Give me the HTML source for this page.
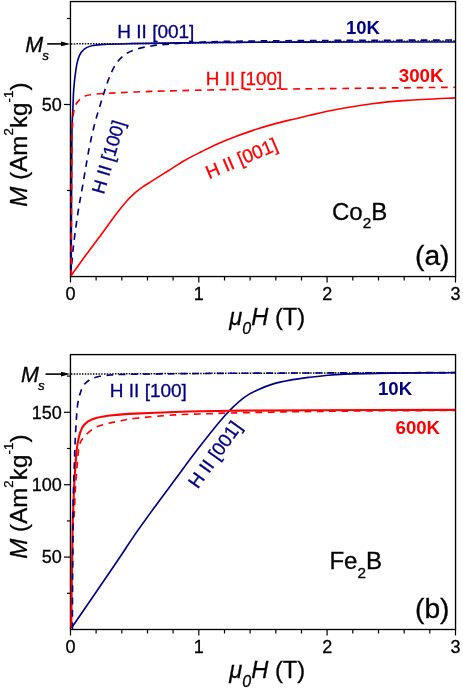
<!DOCTYPE html><html><head><meta charset="utf-8"><style>html,body{margin:0;padding:0;background:#fff}body{width:463px;height:688px;overflow:hidden;position:relative;font-family:"Liberation Sans",sans-serif}</style></head><body>
<svg width="463" height="688" viewBox="0 0 463 688" style="position:absolute;left:0;top:0;will-change:transform">
<rect width="463" height="688" fill="#fff"/>
<g stroke="#000" stroke-width="1.35" fill="none">
<rect x="70.45" y="1.55" width="385.1" height="275.0"/>
<rect x="70.45" y="354.6" width="385.1" height="274.9"/>
</g>
<g stroke="#000" stroke-width="1.2" fill="none">
<line x1="70.5" y1="276.5" x2="70.5" y2="282.5"/><line x1="96.1" y1="276.5" x2="96.1" y2="280.5"/><line x1="121.8" y1="276.5" x2="121.8" y2="280.5"/><line x1="147.5" y1="276.5" x2="147.5" y2="280.5"/><line x1="173.1" y1="276.5" x2="173.1" y2="280.5"/><line x1="198.8" y1="276.5" x2="198.8" y2="282.5"/><line x1="224.5" y1="276.5" x2="224.5" y2="280.5"/><line x1="250.1" y1="276.5" x2="250.1" y2="280.5"/><line x1="275.8" y1="276.5" x2="275.8" y2="280.5"/><line x1="301.5" y1="276.5" x2="301.5" y2="280.5"/><line x1="327.1" y1="276.5" x2="327.1" y2="282.5"/><line x1="352.8" y1="276.5" x2="352.8" y2="280.5"/><line x1="378.5" y1="276.5" x2="378.5" y2="280.5"/><line x1="404.2" y1="276.5" x2="404.2" y2="280.5"/><line x1="429.8" y1="276.5" x2="429.8" y2="280.5"/><line x1="455.5" y1="276.5" x2="455.5" y2="282.5"/>
<line x1="70.5" y1="629.5" x2="70.5" y2="635.5"/><line x1="96.1" y1="629.5" x2="96.1" y2="633.5"/><line x1="121.8" y1="629.5" x2="121.8" y2="633.5"/><line x1="147.5" y1="629.5" x2="147.5" y2="633.5"/><line x1="173.1" y1="629.5" x2="173.1" y2="633.5"/><line x1="198.8" y1="629.5" x2="198.8" y2="635.5"/><line x1="224.5" y1="629.5" x2="224.5" y2="633.5"/><line x1="250.1" y1="629.5" x2="250.1" y2="633.5"/><line x1="275.8" y1="629.5" x2="275.8" y2="633.5"/><line x1="301.5" y1="629.5" x2="301.5" y2="633.5"/><line x1="327.1" y1="629.5" x2="327.1" y2="635.5"/><line x1="352.8" y1="629.5" x2="352.8" y2="633.5"/><line x1="378.5" y1="629.5" x2="378.5" y2="633.5"/><line x1="404.2" y1="629.5" x2="404.2" y2="633.5"/><line x1="429.8" y1="629.5" x2="429.8" y2="633.5"/><line x1="455.5" y1="629.5" x2="455.5" y2="635.5"/>
<line x1="66.95" y1="190.5" x2="70.45" y2="190.5"/>
<line x1="63.95" y1="104.5" x2="70.45" y2="104.5"/>
<line x1="66.95" y1="18.5" x2="70.45" y2="18.5"/>
<line x1="66.95" y1="593.3" x2="70.45" y2="593.3"/>
<line x1="63.95" y1="557.1" x2="70.45" y2="557.1"/>
<line x1="66.95" y1="520.9" x2="70.45" y2="520.9"/>
<line x1="63.95" y1="484.7" x2="70.45" y2="484.7"/>
<line x1="66.95" y1="448.5" x2="70.45" y2="448.5"/>
<line x1="63.95" y1="412.3" x2="70.45" y2="412.3"/>
<line x1="66.95" y1="376.1" x2="70.45" y2="376.1"/>
</g>
<g stroke="#000" stroke-width="1.5" stroke-dasharray="1.45 1.3" fill="none"><path d="M71,43.9 L130,43.6 L220,42.6 L300,41.8 L455,40.9"/><path d="M71,374.1 L220,373.3 L455,372.6"/></g>
<line x1="47.2" y1="43.9" x2="63" y2="43.9" stroke="#000" stroke-width="1.6"/><path d="M61,41.6 L70.3,43.9 L61,46.199999999999996 Z" fill="#000"/>
<line x1="45.5" y1="374.1" x2="63" y2="374.1" stroke="#000" stroke-width="1.6"/><path d="M61,371.8 L70.3,374.1 L61,376.40000000000003 Z" fill="#000"/>
<clipPath id="ca"><rect x="70" y="1" width="386" height="275"/></clipPath><clipPath id="cb"><rect x="70" y="354" width="386" height="275"/></clipPath>
<g clip-path="url(#ca)">
<path d="M70.6,276.3 C72.5,273.6 77.5,266.5 82.3,259.9 C87.1,253.3 93.8,244.6 99.6,236.8 C105.3,229.0 112.2,219.4 116.8,213.3 C121.4,207.2 124.3,203.8 127.2,200.5 C130.1,197.2 131.8,195.7 134.1,193.6 C136.4,191.5 138.1,190.1 141.0,188.1 C143.9,186.1 146.8,184.3 151.4,181.4 C156.0,178.5 163.2,174.0 168.7,170.5 C174.2,167.0 179.1,163.7 184.6,160.5 C190.1,157.3 196.1,154.4 201.8,151.5 C207.6,148.6 213.3,145.7 219.1,143.2 C224.9,140.7 230.6,138.5 236.4,136.3 C242.2,134.1 247.9,132.0 253.7,130.1 C259.4,128.2 265.1,126.5 270.9,124.9 C276.6,123.3 281.7,122.0 288.2,120.4 C294.7,118.8 301.8,117.2 310.0,115.3 C318.2,113.4 327.2,111.2 337.6,109.3 C348.0,107.4 360.6,105.2 372.1,103.7 C383.6,102.2 392.9,101.4 406.7,100.4 C420.5,99.4 446.9,98.3 455.0,97.9" stroke="#ff0000" stroke-width="1.65" fill="none" stroke-linejoin="round"/>
<path d="M70.6,276.5 C71.1,271.2 72.4,255.5 73.6,244.8 C74.8,234.1 76.5,222.5 78.0,212.4 C79.5,202.3 81.1,194.7 82.9,184.3 C84.7,173.9 86.9,160.1 88.8,150.2 C90.7,140.2 92.7,131.8 94.5,124.6 C96.3,117.4 97.8,112.8 99.6,107.0 C101.3,101.2 103.2,95.2 105.0,89.8 C106.8,84.4 108.4,79.2 110.4,74.7 C112.4,70.2 114.3,66.2 116.8,62.8 C119.3,59.4 122.2,56.5 125.5,54.2 C128.8,51.9 132.0,50.6 136.3,49.2 C140.6,47.8 146.6,46.8 151.4,46.0 C156.2,45.2 158.6,44.9 165.0,44.4 C171.4,43.9 180.8,43.3 190.0,42.8 C199.2,42.3 201.7,41.9 220.0,41.5 C238.3,41.1 260.8,40.9 300.0,40.6 C339.2,40.4 429.2,40.1 455.0,40.0" stroke="#000080" stroke-width="1.65" fill="none" stroke-dasharray="6.7 5.6" stroke-linejoin="round"/>
<path d="M71.2,276.5 C71.2,263.8 71.4,221.1 71.5,200.0 C71.6,178.9 71.7,162.5 71.8,150.0 C71.9,137.5 71.9,131.4 72.1,125.0 C72.3,118.6 72.5,117.3 72.8,111.4 C73.1,105.5 73.2,96.6 73.7,89.8 C74.2,83.0 75.1,75.4 75.8,70.4 C76.5,65.4 77.1,62.6 78.0,59.6 C78.9,56.6 79.8,54.2 81.2,52.2 C82.6,50.2 84.6,48.7 86.6,47.6 C88.6,46.5 90.2,46.0 93.1,45.5 C96.0,45.0 97.8,44.7 103.9,44.4 C110.0,44.1 119.6,43.9 129.8,43.7 C140.0,43.5 150.0,43.3 165.0,43.1 C180.0,42.9 197.5,42.6 220.0,42.4 C242.5,42.2 260.8,42.2 300.0,42.1 C339.2,42.0 429.2,42.0 455.0,42.0" stroke="#000080" stroke-width="1.65" fill="none" stroke-linejoin="round"/>
<path d="M71.2,276.5 C71.2,263.8 71.4,219.4 71.5,200.0 C71.6,180.6 71.7,170.8 71.8,160.0 C71.9,149.2 72.0,142.1 72.2,135.0 C72.4,127.9 72.6,121.8 73.0,117.2 C73.4,112.6 74.0,110.1 74.8,107.5 C75.6,104.9 76.3,103.4 77.8,101.6 C79.3,99.8 81.6,97.9 83.6,96.8 C85.6,95.7 86.6,95.3 90.0,94.8 C93.4,94.2 97.3,93.9 103.9,93.5 C110.5,93.1 119.6,92.6 129.8,92.2 C140.0,91.8 148.3,91.4 165.0,91.0 C181.7,90.6 205.8,90.0 230.0,89.6 C254.2,89.2 272.5,89.2 310.0,88.8 C347.5,88.4 430.8,87.5 455.0,87.3" stroke="#ff0000" stroke-width="1.65" fill="none" stroke-dasharray="6.7 5.6" stroke-linejoin="round"/>
</g><g clip-path="url(#cb)">
<path d="M71.8,627.5 C79.5,616.2 107.8,575.1 118.0,560.0 C128.2,544.9 127.1,546.0 133.2,537.1 C139.3,528.2 147.6,516.8 154.8,506.9 C162.0,497.0 169.4,487.2 176.6,477.5 C183.8,467.8 191.0,457.9 198.2,448.6 C205.4,439.3 214.0,428.4 219.8,421.5 C225.6,414.6 228.8,411.3 233.0,407.2 C237.2,403.1 240.9,399.7 245.0,396.8 C249.1,393.9 252.7,392.1 257.5,389.9 C262.4,387.7 268.5,385.3 274.1,383.6 C279.8,381.9 285.4,381.0 291.4,379.9 C297.4,378.8 304.6,377.9 310.0,377.2 C315.4,376.5 317.9,376.2 323.7,375.7 C329.4,375.2 333.4,374.5 344.5,374.1 C355.6,373.7 371.6,373.3 390.0,373.1 C408.4,372.9 444.2,372.8 455.0,372.7" stroke="#000080" stroke-width="1.65" fill="none" stroke-linejoin="round"/>
<path d="M71.4,628.0 C71.7,611.7 72.5,548.9 73.0,530.0 C73.5,511.1 73.8,521.6 74.2,514.7 C74.6,507.8 74.9,496.8 75.4,488.5 C75.9,480.2 76.5,472.3 77.2,465.0 C77.9,457.7 78.2,449.7 79.5,444.9 C80.8,440.1 82.1,439.1 84.7,436.2 C87.3,433.3 91.2,429.7 95.1,427.6 C99.0,425.5 104.0,424.5 108.2,423.4 C112.4,422.3 115.4,421.9 120.0,421.0 C124.6,420.1 126.8,419.2 135.9,418.2 C145.0,417.2 164.1,415.6 174.8,414.9 C185.5,414.2 190.6,414.3 200.0,414.0 C209.4,413.7 219.3,413.3 231.0,413.0 C242.7,412.7 256.8,412.4 270.0,412.2 C283.2,411.9 291.7,411.7 310.0,411.5 C328.3,411.3 355.8,411.0 380.0,410.8 C404.2,410.6 442.5,410.5 455.0,410.4" stroke="#ff0000" stroke-width="1.65" fill="none" stroke-dasharray="6.7 5.6" stroke-linejoin="round"/>
<path d="M71.2,627.5 C71.4,611.2 72.2,550.0 72.6,530.0 C72.9,510.0 73.0,515.5 73.3,507.7 C73.6,499.9 73.9,490.3 74.3,483.3 C74.7,476.3 75.0,471.3 75.4,465.8 C75.8,460.3 76.2,454.8 76.7,450.1 C77.2,445.5 77.8,441.6 78.7,437.9 C79.6,434.1 80.8,430.3 82.3,427.6 C83.8,424.9 85.4,423.2 87.8,421.6 C90.2,420.0 92.8,418.9 96.9,417.8 C101.0,416.7 106.2,415.9 112.6,415.2 C118.9,414.5 124.6,414.1 135.0,413.6 C145.4,413.1 158.8,412.5 174.8,412.0 C190.8,411.5 208.5,411.1 231.0,410.8 C253.5,410.5 272.7,410.4 310.0,410.2 C347.3,410.0 430.8,409.9 455.0,409.9" stroke="#ff0000" stroke-width="2.1" fill="none" stroke-linejoin="round"/>
<path d="M72.4,629.0 C72.4,620.8 72.5,596.5 72.6,580.0 C72.7,563.5 72.8,543.8 72.9,530.0 C73.0,516.2 73.1,506.8 73.3,497.0 C73.5,487.2 73.8,479.7 74.1,471.0 C74.4,462.3 74.7,453.1 75.0,444.9 C75.3,436.7 75.8,428.7 76.2,422.0 C76.6,415.3 76.9,409.7 77.6,404.8 C78.3,399.9 79.2,396.3 80.3,392.9 C81.4,389.5 82.6,386.6 84.4,384.3 C86.2,382.0 88.7,380.2 91.3,378.9 C93.9,377.6 96.7,376.9 99.9,376.3 C103.1,375.7 107.4,375.3 110.7,375.0 C114.0,374.7 111.8,374.7 120.0,374.5 C128.2,374.3 138.3,374.1 160.0,373.9 C181.7,373.7 200.8,373.4 250.0,373.2 C299.2,373.0 420.8,372.7 455.0,372.6" stroke="#000080" stroke-width="1.65" fill="none" stroke-dasharray="6.7 5.6" stroke-linejoin="round"/>
</g>
<g font-family="'Liberation Sans', sans-serif">
<text x="70.45" y="299.9" font-size="18" fill="#000" stroke="#000" stroke-width="0.3" text-anchor="middle" font-weight="normal" font-style="normal">0</text>
<text x="198.8" y="299.9" font-size="18" fill="#000" stroke="#000" stroke-width="0.3" text-anchor="middle" font-weight="normal" font-style="normal">1</text>
<text x="327.15" y="299.9" font-size="18" fill="#000" stroke="#000" stroke-width="0.3" text-anchor="middle" font-weight="normal" font-style="normal">2</text>
<text x="455.49999999999994" y="299.9" font-size="18" fill="#000" stroke="#000" stroke-width="0.3" text-anchor="middle" font-weight="normal" font-style="normal">3</text>
<text x="70.45" y="652.5" font-size="18" fill="#000" stroke="#000" stroke-width="0.3" text-anchor="middle" font-weight="normal" font-style="normal">0</text>
<text x="198.8" y="652.5" font-size="18" fill="#000" stroke="#000" stroke-width="0.3" text-anchor="middle" font-weight="normal" font-style="normal">1</text>
<text x="327.15" y="652.5" font-size="18" fill="#000" stroke="#000" stroke-width="0.3" text-anchor="middle" font-weight="normal" font-style="normal">2</text>
<text x="455.49999999999994" y="652.5" font-size="18" fill="#000" stroke="#000" stroke-width="0.3" text-anchor="middle" font-weight="normal" font-style="normal">3</text>
<text x="61.8" y="110.8" font-size="18" fill="#000" stroke="#000" stroke-width="0.3" text-anchor="end" font-weight="normal" font-style="normal">50</text>
<text x="61.8" y="563.2" font-size="18" fill="#000" stroke="#000" stroke-width="0.3" text-anchor="end" font-weight="normal" font-style="normal">50</text>
<text x="61.8" y="491.4" font-size="18" fill="#000" stroke="#000" stroke-width="0.3" text-anchor="end" font-weight="normal" font-style="normal">100</text>
<text x="61.8" y="418.8" font-size="18" fill="#000" stroke="#000" stroke-width="0.3" text-anchor="end" font-weight="normal" font-style="normal">150</text>
<text x="25.2" y="52" font-size="21.5" font-style="italic" stroke="#000" stroke-width="0.3">M<tspan font-size="13.4" dy="7.8" dx="-0.8">s</tspan></text>
<text x="21" y="382" font-size="21.5" font-style="italic" stroke="#000" stroke-width="0.3">M<tspan font-size="13.4" dy="7.8" dx="-0.8">s</tspan></text>
<text x="229.3" y="325.4" font-size="23.7" stroke="#000" stroke-width="0.3"><tspan font-style="italic">μ</tspan><tspan font-style="italic" font-size="16" dy="9">0</tspan><tspan font-style="italic" dy="-9">H</tspan> (T)</text>
<text x="229.3" y="677.8" font-size="23.7" stroke="#000" stroke-width="0.3"><tspan font-style="italic">μ</tspan><tspan font-style="italic" font-size="16" dy="9">0</tspan><tspan font-style="italic" dy="-9">H</tspan> (T)</text>
<text x="26.8" y="206.7" font-size="24" letter-spacing="0.1" stroke="#000" stroke-width="0.3" transform="rotate(-90 26.8 206.7)"><tspan font-style="italic">M</tspan> (Am<tspan font-size="13.3" dy="-14">2</tspan><tspan dy="14">kg</tspan><tspan font-size="13.3" dy="-14">-1</tspan><tspan dy="14">)</tspan></text>
<text x="26.8" y="558.8" font-size="24" letter-spacing="0.1" stroke="#000" stroke-width="0.3" transform="rotate(-90 26.8 558.8)"><tspan font-style="italic">M</tspan> (Am<tspan font-size="13.3" dy="-14">2</tspan><tspan dy="14">kg</tspan><tspan font-size="13.3" dy="-14">-1</tspan><tspan dy="14">)</tspan></text>
<text x="117.3" y="38" font-size="19" fill="#000080" stroke="#000080" stroke-width="0.3" text-anchor="start" font-weight="normal" font-style="normal">H II [001]</text>
<text x="205.8" y="84.9" font-size="18.85" fill="#ff0000" stroke="#ff0000" stroke-width="0.3" text-anchor="start" font-weight="normal" font-style="normal">H II [100]</text>
<text x="346" y="34.2" font-size="18.5" fill="#000080" text-anchor="start" font-weight="bold" font-style="normal">10K</text>
<text x="398.8" y="81.5" font-size="18.7" fill="#ff0000" text-anchor="start" font-weight="bold" font-style="normal">300K</text>
<text x="109.8" y="396.6" font-size="19" fill="#000080" stroke="#000080" stroke-width="0.3" text-anchor="start" font-weight="normal" font-style="normal">H II [100]</text>
<text x="378" y="395.3" font-size="18.6" fill="#000080" text-anchor="start" font-weight="bold" font-style="normal">10K</text>
<text x="395.6" y="434.3" font-size="18.6" fill="#ff0000" text-anchor="start" font-weight="bold" font-style="normal">600K</text>
<text x="209" y="179.3" font-size="18.8" fill="#ff0000" stroke="#ff0000" stroke-width="0.3" text-anchor="start" font-weight="normal" font-style="normal" transform="rotate(-23 209 179.3)">H II [001]</text>
<text x="103.7" y="195.1" font-size="18.6" fill="#000080" stroke="#000080" stroke-width="0.3" text-anchor="start" font-weight="normal" font-style="normal" transform="rotate(-73.5 103.7 195.1)">H II [100]</text>
<text x="197.8" y="489.6" font-size="18.95" fill="#000080" stroke="#000080" stroke-width="0.3" text-anchor="start" font-weight="normal" font-style="normal" transform="rotate(-54.4 197.8 489.6)">H II [001]</text>
<text x="332" y="220" font-size="24" stroke="#000" stroke-width="0.3">Co<tspan font-size="15.3" dy="7.8">2</tspan><tspan dy="-7.8">B</tspan></text>
<text x="329.4" y="569" font-size="24" stroke="#000" stroke-width="0.3">Fe<tspan font-size="15.3" dy="8.5">2</tspan><tspan dy="-8.5">B</tspan></text>
<text x="415" y="265" font-size="28.2" fill="#000" stroke="#000" stroke-width="0.3" text-anchor="start" font-weight="normal" font-style="normal">(a)</text>
<text x="415" y="618" font-size="28.2" fill="#000" stroke="#000" stroke-width="0.3" text-anchor="start" font-weight="normal" font-style="normal">(b)</text>
</g></svg>
</body></html>
